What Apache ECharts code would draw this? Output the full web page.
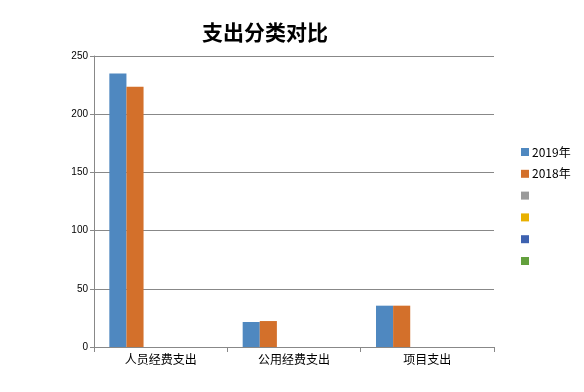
<!DOCTYPE html>
<html><head><meta charset="utf-8">
<script src="https://cdn.jsdelivr.net/npm/echarts@6/dist/echarts.min.js"></script>
<style>html,body{margin:0;padding:0;background:#fff}#c{width:584px;height:392px}</style>
</head><body><div id="c"></div>
<script>
const categories = ['人员经费支出', '公用经费支出', '项目支出'];
const values2019 = [235, 21.5, 35.5];
const values2018 = [223.5, 22.3, 35.5];
const emptyA = [null, null, null];
const emptyB = [null, null, null];
const emptyC = [null, null, null];
const emptyD = [null, null, null];
const seriesNames = ['2019年', '2018年', '系列3', '系列4', '系列5', '系列6'];
const yTicks = [0, 50, 100, 150, 200, 250];
const colors = ['#4F88C0', '#D3702B', '#9A9A9A', '#E8B000', '#3E62B0', '#63A03D'];
const dataSets = [values2019, values2018, emptyA, emptyB, emptyC, emptyD];

const chart = echarts.init(document.getElementById('c'));
chart.setOption({
  animation: false,
  color: colors,
  title: {
    text: '支出分类对比', left: 197, top: 17,
    textStyle: {fontFamily: 'Noto Sans CJK SC', fontSize: 21, fontWeight: 'bold', color: '#000'}
  },
  legend: {
    orient: 'vertical', left: 516, top: 141,
    itemWidth: 8, itemHeight: 8, itemGap: 9.8, icon: 'rect',
    data: seriesNames,
    formatter: n => n.startsWith('系列') ? ' ' : n,
    textStyle: {fontFamily: 'Noto Sans CJK SC', fontSize: 12, color: '#000', padding: [0,0,0,-2]}
  },
  grid: {left: 94, right: 90, top: 56, bottom: 45},
  xAxis: {
    type: 'category', data: categories,
    axisLine: {lineStyle: {color: '#888', width: 1}},
    axisTick: {show: true, length: 5, lineStyle: {color: '#888'}},
    axisLabel: {fontFamily: 'Noto Sans CJK SC', fontSize: 12, color: '#000', margin: 6}
  },
  yAxis: {
    type: 'value', min: yTicks[0], max: yTicks[yTicks.length-1], interval: 50,
    axisLine: {show: true, lineStyle: {color: '#888', width: 1}},
    axisTick: {show: true, length: 4, lineStyle: {color: '#888'}},
    splitLine: {lineStyle: {color: '#888', width: 1}},
    axisLabel: {fontFamily: 'Liberation Sans', fontSize: 10, color: '#000', margin: 6}
  },
  series: seriesNames.map((n, i) => ({
    name: n, type: 'bar', data: dataSets[i],
    barGap: '0%', barCategoryGap: '23%',
    itemStyle: {color: colors[i]}
  }))
});
</script></body></html>
